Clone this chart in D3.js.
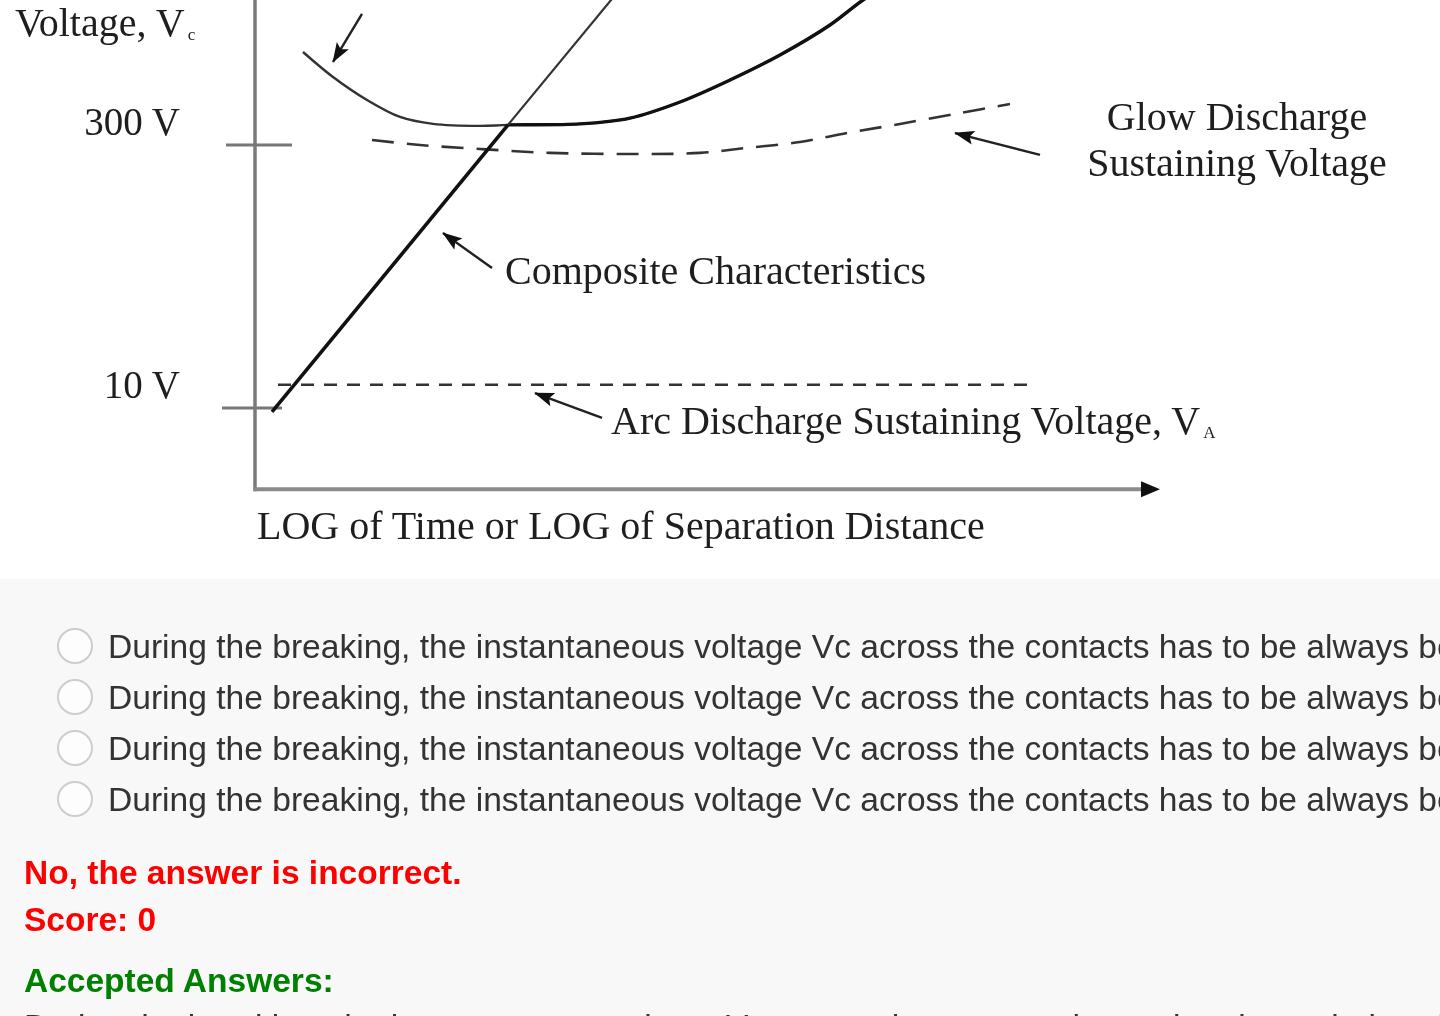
<!DOCTYPE html>
<html>
<head>
<meta charset="utf-8">
<script src="https://cdn.jsdelivr.net/npm/d3@7"></script>
<style>
  html, body { margin: 0; padding: 0; background: #fff; overflow: hidden; }
  svg { display: block; filter: blur(0.45px); }
</style>
</head>
<body>
<svg id="chart" width="1440" height="1016"></svg>
<script>
// Glow discharge breakdown curve (x: log of time / separation, arbitrary units; V: volts)
const glowX = [4.8, 7.8, 11.2, 14.5, 17.8, 22.5, 25.3, 32.5, 37.5, 42.5, 47.5, 52.5, 57.5, 60.8, 62.5];
const glowV = [999, 723, 537, 431, 394, 384, 389, 394, 425, 523, 695, 961, 1416, 1956, 2227];

// Glow discharge sustaining voltage (dashed)
const sustainX = [11.7, 16.5, 22.5, 29.5, 39.2, 44.5, 49.2, 54.5, 59.2, 64.5, 70.5, 75.5];
const sustainV = [320, 300, 285, 271, 267, 271, 289, 312, 350, 394, 454, 510];

// Arc discharge sustaining voltage (dashed, flat)
const arcX = [2.3, 77.3];
const arcV = [13.5, 13.5];

// Composite characteristic: rising segment up to the glow curve, then its thin continuation
const compositeX = [1.7, 25.3];
const compositeV = [9.5, 389];
const extensionX = [25.3, 36.1];
const extensionV = [389, 2114];

// Voltage axis ticks
const tickValues = [10, 300];
const tickLabels = ["10 V", "300 V"];

// Pointer arrows: tail -> head
const arrowTailX = [10.7, 78.5, 23.7, 34.7];
const arrowTailV = [1633, 264, 61.1, 8.79];
const arrowHeadX = [7.8, 70.0, 18.8, 28.0];
const arrowHeadV = [878, 350, 96.1, 12.14];

// Answer options
const optionTexts = [
  "During the breaking, the instantaneous voltage Vc across the contacts has to be always below the arc discharge sustaining voltage",
  "During the breaking, the instantaneous voltage Vc across the contacts has to be always below the glow discharge sustaining voltage",
  "During the breaking, the instantaneous voltage Vc across the contacts has to be always below the composite characteristics",
  "During the breaking, the instantaneous voltage Vc across the contacts has to be always between the two sustaining voltages"
];
const acceptedText = "During the breaking, the instantaneous voltage Vc across the contacts has to be always below the composite characteristics";

const serif = "'Liberation Serif', 'Times New Roman', Times, serif";
const sans = "'Liberation Sans', Arial, Helvetica, sans-serif";
const ink = "#1e1e1e";

const svg = d3.select("#chart");

// Scales: linear log-time axis, logarithmic voltage axis
const x = d3.scaleLinear().domain([0, 90]).range([255, 1155]);
const y = d3.scaleLog().domain([10, 300]).range([408, 145]);
const vBottom = 3.5;

// Diagram panel
svg.append("rect").attr("x", 0).attr("y", 0).attr("width", 1440).attr("height", 579).attr("fill", "#fff");

const defs = svg.append("defs");
defs.append("marker")
  .attr("id", "head")
  .attr("markerUnits", "userSpaceOnUse")
  .attr("viewBox", "0 0 20 16")
  .attr("refX", 19).attr("refY", 8)
  .attr("markerWidth", 20).attr("markerHeight", 16)
  .attr("orient", "auto")
  .append("path").attr("d", "M0,1 L20,8 L0,15 L4,8 Z").attr("fill", "#111");

defs.append("clipPath").attr("id", "rightPart")
  .append("rect").attr("x", x(25.3)).attr("y", -20).attr("width", 1440).attr("height", 600);

const plot = svg.append("g");

// Axes lines
plot.append("line")
  .attr("x1", x(0)).attr("x2", x(0))
  .attr("y1", 0).attr("y2", y(vBottom) + 2)
  .attr("stroke", "#7a7a7a").attr("stroke-width", 3.5);

plot.append("line")
  .attr("x1", x(0) - 1.5).attr("x2", x(88.8))
  .attr("y1", y(vBottom)).attr("y2", y(vBottom))
  .attr("stroke", "#8a8a8a").attr("stroke-width", 4);
plot.append("path")
  .attr("d", `M${x(88.6)},${y(vBottom) - 8} L${x(90.5)},${y(vBottom)} L${x(88.6)},${y(vBottom) + 8} Z`)
  .attr("fill", "#111");

// Voltage axis with tick labels
const yAxis = d3.axisLeft(y)
  .tickValues(tickValues)
  .tickFormat((d, i) => tickLabels[i])
  .tickSize(0)
  .tickPadding(75);
plot.append("g")
  .attr("transform", `translate(${x(0)},0)`)
  .call(yAxis)
  .call(g => g.select(".domain").remove())
  .call(g => g.selectAll("text")
    .attr("font-family", serif)
    .attr("font-size", 39)
    .attr("fill", ink)
    .attr("dy", "-0.26em"));

// Cross ticks through the voltage axis
const tickLeft = [33, 29];
const tickRight = [27, 37];
plot.selectAll(".crossTick")
  .data(tickValues)
  .join("line")
  .attr("class", "crossTick")
  .attr("x1", (d, i) => x(0) - tickLeft[i])
  .attr("x2", (d, i) => x(0) + tickRight[i])
  .attr("y1", d => y(d)).attr("y2", d => y(d))
  .attr("stroke", "#777").attr("stroke-width", 3);

const line = d3.line().x(d => x(d[0])).y(d => y(d[1]));
const smooth = d3.line().x(d => x(d[0])).y(d => y(d[1])).curve(d3.curveCatmullRom.alpha(0.5));

const glowPts = d3.zip(glowX, glowV);

// Glow breakdown curve: thin overall, heavier where it forms the composite characteristic
plot.append("path").attr("d", smooth(glowPts))
  .attr("fill", "none").attr("stroke", "#333").attr("stroke-width", 2.4);
plot.append("path").attr("d", smooth(glowPts))
  .attr("clip-path", "url(#rightPart)")
  .attr("fill", "none").attr("stroke", "#111").attr("stroke-width", 3.4);

// Glow discharge sustaining voltage
plot.append("path").attr("d", smooth(d3.zip(sustainX, sustainV)))
  .attr("fill", "none").attr("stroke", "#333").attr("stroke-width", 2.6)
  .attr("stroke-dasharray", "22,13");

// Arc discharge sustaining voltage
plot.append("path").attr("d", line(d3.zip(arcX, arcV)))
  .attr("fill", "none").attr("stroke", "#333").attr("stroke-width", 2.6)
  .attr("stroke-dasharray", "13,10");

// Composite characteristic
plot.append("path").attr("d", line(d3.zip(extensionX, extensionV)))
  .attr("fill", "none").attr("stroke", "#333").attr("stroke-width", 2.2);
plot.append("path").attr("d", line(d3.zip(compositeX, compositeV)))
  .attr("fill", "none").attr("stroke", "#111").attr("stroke-width", 3.6);

// Pointer arrows
plot.selectAll(".pointer")
  .data(d3.range(arrowTailX.length))
  .join("line")
  .attr("class", "pointer")
  .attr("x1", i => x(arrowTailX[i])).attr("y1", i => y(arrowTailV[i]))
  .attr("x2", i => x(arrowHeadX[i])).attr("y2", i => y(arrowHeadV[i]))
  .attr("stroke", "#222").attr("stroke-width", 2.4)
  .attr("marker-end", "url(#head)");

// Diagram labels
function label(tx, ty, text, sub, anchor) {
  const t = plot.append("text")
    .attr("x", tx).attr("y", ty)
    .attr("font-family", serif).attr("font-size", 40)
    .attr("fill", ink)
    .attr("text-anchor", anchor || "start")
    .text(text);
  if (sub) {
    t.append("tspan").attr("font-size", 17).attr("dy", 4).attr("dx", 3).text(sub);
  }
  return t;
}
label(15, 36, "Voltage, V", "c");
label(1237, 130, "Glow Discharge", null, "middle");
label(1237, 176, "Sustaining Voltage", null, "middle");
label(505, 284, "Composite Characteristics");
label(611, 434, "Arc Discharge Sustaining Voltage, V", "A");
label(257, 539, "LOG of Time or LOG of Separation Distance");

// Question / feedback panel
svg.append("rect").attr("x", 0).attr("y", 579).attr("width", 1440).attr("height", 437).attr("fill", "#f8f8f8");

const rowY = d3.scaleLinear().domain([0, 1]).range([646, 697]);
const opts = svg.append("g").selectAll("g")
  .data(optionTexts)
  .join("g")
  .attr("transform", (d, i) => `translate(0,${rowY(i)})`);
opts.append("circle")
  .attr("cx", 75).attr("cy", 0).attr("r", 17)
  .attr("fill", "#fdfdfd").attr("stroke", "#cdcdcd").attr("stroke-width", 2);
opts.append("text")
  .attr("x", 108).attr("y", 11.5)
  .attr("font-family", sans).attr("font-size", 33.6)
  .attr("fill", "#333")
  .text(d => d);

svg.append("text").attr("x", 24).attr("y", 884)
  .attr("font-family", sans).attr("font-size", 33.5).attr("font-weight", "bold")
  .attr("fill", "#ff0000").text("No, the answer is incorrect.");
svg.append("text").attr("x", 24).attr("y", 931)
  .attr("font-family", sans).attr("font-size", 33.5).attr("font-weight", "bold")
  .attr("fill", "#ff0000").text("Score: 0");
svg.append("text").attr("x", 24).attr("y", 992)
  .attr("font-family", sans).attr("font-size", 33.5).attr("font-weight", "bold")
  .attr("fill", "#008000").text("Accepted Answers:");
svg.append("text").attr("x", 24).attr("y", 1038)
  .attr("font-family", sans).attr("font-size", 33.5)
  .attr("fill", "#333").text(acceptedText);
</script>
</body>
</html>
